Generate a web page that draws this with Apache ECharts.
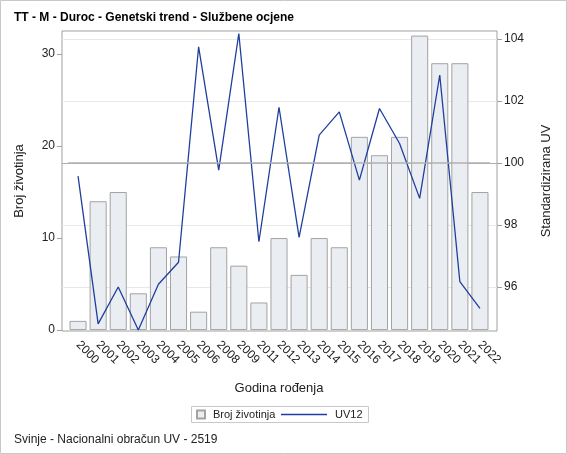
<!DOCTYPE html>
<html>
<head>
<meta charset="utf-8">
<script src="https://cdn.jsdelivr.net/npm/echarts@6/dist/echarts.min.js"></script>
<style>
html, body { margin: 0; padding: 0; background: #fff; }
#chart { width: 567px; height: 454px; }
</style>
</head>
<body>
<div id="chart"></div>
<script>
// godine rođenja (kategorije osi x)
const years = ['2000', '2001', '2002', '2003', '2004', '2005', '2006', '2008', '2009', '2011',
    '2012', '2013', '2014', '2015', '2016', '2017', '2018', '2019', '2020', '2021', '2022'];
// broj životinja po godini (stupci, lijeva os)
const brojZivotinja = [1, 14, 15, 4, 9, 8, 2, 9, 7, 3, 10, 6, 10, 9, 21, 19, 21, 32, 29, 29, 15];
// standardizirana UV12 (linija, desna os)
const uv12 = [99.58, 94.81, 96.0, 94.61, 96.09, 96.8, 103.75, 99.77, 104.18, 97.46, 101.8, 97.6,
    100.9, 101.65, 99.45, 101.76, 100.63, 98.86, 102.84, 96.17, 95.31];
const leftTicks = [0, 10, 20, 30];
const rightTicks = [96, 98, 100, 102, 104];
const referenceUV = 100;

const font = "'Liberation Sans', Arial, sans-serif";
const textColor = '#222';
const frameColor = '#a0a0a0';
const lineColor = '#1f3f9f';

const chart = echarts.init(document.getElementById('chart'));

const option = {
    animation: false,
    textStyle: { fontFamily: font },
    title: [
        {
            text: 'TT - M - Duroc - Genetski trend - Službene ocjene',
            left: 9, top: 7,
            textStyle: { fontFamily: font, fontSize: 12, fontWeight: 'bold', color: '#000' }
        },
        {
            text: 'Svinje - Nacionalni obračun UV - 2519',
            left: 9, top: 429,
            textStyle: { fontFamily: font, fontSize: 12, fontWeight: 'normal', color: textColor }
        }
    ],
    graphic: [
        {
            type: 'rect', silent: true,
            shape: { x: 0.5, y: 0.5, width: 566, height: 453 },
            style: { fill: 'none', stroke: '#c8c8c8', lineWidth: 1 }
        },
        {
            type: 'rect', silent: true,
            shape: { x: 191.5, y: 406.5, width: 177, height: 16 },
            style: { fill: 'none', stroke: '#c8c8c8', lineWidth: 1 }
        }
    ],
    legend: [
        {
            data: [{ name: 'Broj životinja', icon: 'rect' }],
            left: 192, top: 407, padding: [2, 4],
            itemWidth: 8, itemHeight: 8,
            textStyle: { fontFamily: font, fontSize: 11, color: textColor, padding: [0, 0, 0, 3] }
        },
        {
            data: [{ name: 'UV12', icon: 'rect' }],
            left: 277, top: 407, padding: [2, 4],
            itemWidth: 46, itemHeight: 1.5,
            textStyle: { fontFamily: font, fontSize: 11, color: textColor, padding: [0, 0, 0, 3] }
        }
    ],
    grid: [
        { left: 68, right: 77, top: 31, bottom: 123 },
        {
            left: 62, right: 70, top: 31, bottom: 123,
            show: true, borderColor: frameColor, borderWidth: 1, backgroundColor: 'transparent'
        }
    ],
    xAxis: [
        {
            type: 'category', gridIndex: 0, data: years,
            axisLine: { show: false },
            axisTick: { alignWithLabel: true, length: 6, lineStyle: { color: frameColor } },
            axisLabel: {
                rotate: -45, margin: 12, fontSize: 12, color: textColor, interval: 0,
                padding: [14, 0, 0, 0]
            },
            name: 'Godina rođenja', nameLocation: 'middle', nameGap: 51,
            nameTextStyle: { fontSize: 13, color: textColor }
        },
        { type: 'value', gridIndex: 1, show: false, min: 0, max: 1 }
    ],
    yAxis: [
        {
            type: 'value', gridIndex: 0, position: 'left', offset: 6,
            min: -0.1, max: 32.5,
            axisLine: { show: false },
            axisTick: { show: true, length: 5, lineStyle: { color: frameColor }, customValues: leftTicks },
            axisLabel: { margin: 7, fontSize: 12, color: textColor, customValues: leftTicks },
            splitLine: { show: false },
            name: 'Broj životinja', nameLocation: 'middle', nameGap: 36,
            nameTextStyle: { fontSize: 13, color: textColor }
        },
        {
            type: 'value', gridIndex: 0, position: 'right', offset: 7,
            min: 94.58, max: 104.26,
            axisLine: { show: false },
            axisTick: { show: true, length: 5, lineStyle: { color: frameColor }, customValues: rightTicks },
            axisLabel: { margin: 7, fontSize: 12, color: textColor, customValues: rightTicks },
            splitLine: { show: false },
            name: 'Standardizirana UV', nameLocation: 'middle', nameGap: 43,
            nameTextStyle: { fontSize: 13, color: textColor }
        },
        {
            // mreža preko cijelog okvira
            type: 'value', gridIndex: 1, position: 'right',
            min: 94.58, max: 104.26,
            axisLine: { show: false },
            axisTick: { show: false, customValues: rightTicks },
            axisLabel: { show: false, customValues: rightTicks },
            splitLine: {
                show: true,
                lineStyle: { color: ['#e8e8e8', '#e8e8e8', '#b0b0b0', '#e8e8e8', '#e8e8e8'], width: 1 }
            }
        }
    ],
    series: [
        {
            name: 'Broj životinja', type: 'bar',
            xAxisIndex: 0, yAxisIndex: 0,
            data: brojZivotinja,
            barCategoryGap: '15%',
            itemStyle: { color: '#eaedf2', borderColor: '#a3a3a3', borderWidth: 1 },
            emphasis: { disabled: true }
        },
        {
            name: 'UV12', type: 'line',
            xAxisIndex: 0, yAxisIndex: 1,
            data: uv12,
            symbol: 'none',
            lineStyle: { color: lineColor, width: 1.3 },
            itemStyle: { color: lineColor },
            emphasis: { disabled: true },
            markLine: {
                silent: true, symbol: 'none',
                label: { show: false },
                lineStyle: { color: '#b0b0b0', type: 'solid', width: 1.5 },
                data: [{ yAxis: referenceUV }]
            }
        }
    ]
};

chart.setOption(option);
</script>
</body>
</html>
